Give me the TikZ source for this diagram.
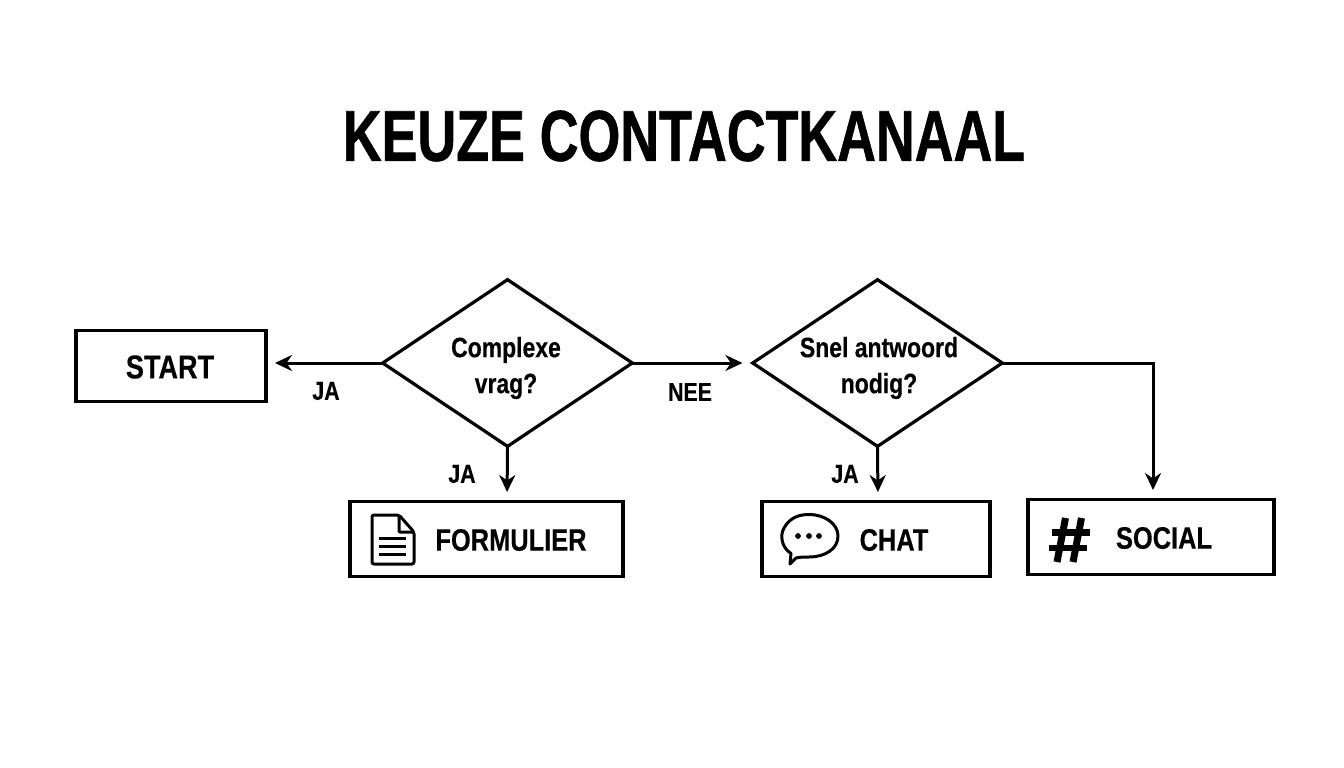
\documentclass[tikz,border=0pt]{standalone}
\usepackage{fontspec}
\setmainfont[FakeStretch=0.82,BoldFeatures={FakeBold=0.4}]{Liberation Sans}
\newfontfamily\titlefont[FakeStretch=0.746,FakeBold=0.8]{Liberation Sans Bold}
\usetikzlibrary{shapes.geometric,arrows.meta}
\tikzset{
  box/.style={draw,line width=3.8pt,minimum height=75pt},
  choice/.style={draw,line width=3.2pt,diamond,minimum width=251pt,minimum height=168pt,inner sep=0pt},
  lbl/.style={font=\fontsize{28}{36}\selectfont\bfseries,inner sep=0pt,align=center},
  edgelbl/.style={font=\fontsize{26}{30}\selectfont\bfseries,inner sep=0pt},
  flow/.style={line width=3pt,-{Stealth[length=17pt,width=16pt]},shorten >=8pt,shorten <=-1.5pt},
  icon/.style={line width=3pt,line join=round}
}
\begin{document}
\begin{tikzpicture}
[x=1pt,y=-1pt]
\useasboundingbox (0,0) rectangle (1344,768);
\node[font=\fontsize{72}{80}\titlefont,inner sep=0pt] (title) at (684,136) {KEUZE CONTACTKANAAL};
% beslissingen
\node[choice] (q1) at (507.5,363) {};
\node[choice] (q2) at (877.5,363) {};
\node[lbl] (q1txt) at (506,368) {Complexe\\vrag?};
\node[lbl] (q2txt) at (879,368) {Snel antwoord\\nodig?};
% vakken
\node[box,minimum width=190pt,minimum height=71pt] (start) at (171,366) {};
\node[box,minimum width=273pt] (form) at (486.5,539) {};
\node[box,minimum width=228pt] (chat) at (876,539) {};
\node[box,minimum width=246pt] (social) at (1151,537) {};
\node[lbl,font=\fontsize{33}{36}\selectfont\bfseries] (starttxt) at (170,367) {START};
\node[lbl,font=\fontsize{31}{36}\selectfont\bfseries] (formtxt) at (511,540) {FORMULIER};
\node[lbl,font=\fontsize{31}{36}\selectfont\bfseries] (chattxt) at (894,540) {CHAT};
\node[lbl,font=\fontsize{31}{36}\selectfont\bfseries] (socialtxt) at (1164,538) {SOCIAL};
% pijlen
\coordinate (startin) at (267,363);
\coordinate (socialin) at (1153,498);
\coordinate (formin) at (507,500);
\coordinate (chatin) at (878,500);
\draw[flow] (q1.west) -- (startin);
\draw[flow] (q1.east) -- (q2.west);
\draw[flow] (q1.south) -- (formin);
\draw[flow] (q2.south) -- (chatin);
\draw[flow] (q2.east) -| (socialin);
\node[edgelbl] (ja1) at (326,391) {JA};
\node[edgelbl] (nee) at (690,392) {NEE};
\node[edgelbl] (ja2) at (462,474) {JA};
\node[edgelbl] (ja3) at (845,474) {JA};
% iconen
\draw[icon,rounded corners=2pt] (372,515) -- (399,515) -- (414,532) -- (414,564) -- (372,564) -- cycle;
\draw[icon,rounded corners=1pt] (399,515) -- (399,532) -- (414,532);
\foreach \y in {538,546,554}
  \draw[icon] (379,\y) -- (406,\y);
\draw[icon] (791,553.5) .. controls (781,547) and (780,535) .. (784,528) .. controls (790,517) and (800,514.5) .. (809,514.5) .. controls (825,514.5) and (838,524) .. (838,536) .. controls (838,549) and (825,557) .. (809,557) .. controls (804,557) and (800,557) .. (796,558) -- (790,564) -- cycle;
\foreach \x in {798,809,819}
  \fill (\x,536) circle (2.9pt);
\foreach \a/\b in {1065.5/1057,1081.5/1073}
  \draw[line width=7pt] (\a,518) -- (\b,562);
\draw[line width=6.5pt] (1052,532.5) -- (1090,532.5);
\draw[line width=6.5pt] (1049,548) -- (1087,548);
\end{tikzpicture}
\end{document}
